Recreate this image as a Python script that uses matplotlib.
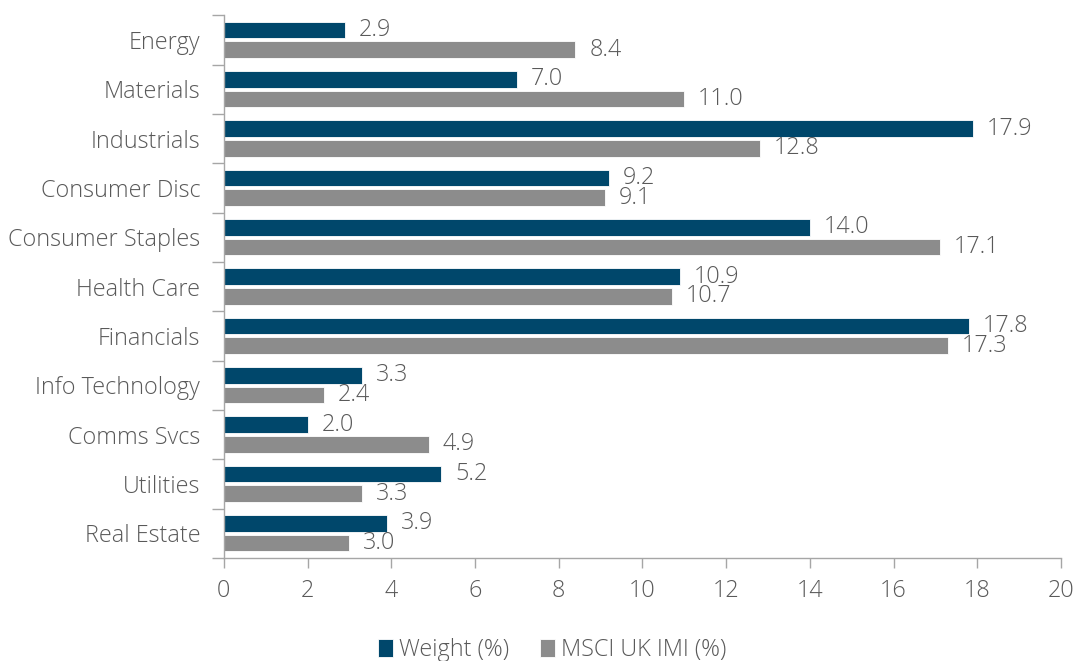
import matplotlib.pyplot as plt
import numpy as np

categories = ["Energy", "Materials", "Industrials", "Consumer Disc", "Consumer Staples",
              "Health Care", "Financials", "Info Technology", "Comms Svcs", "Utilities",
              "Real Estate"]
weight = [2.9, 7.0, 17.9, 9.2, 14.0, 10.9, 17.8, 3.3, 2.0, 5.2, 3.9]
msci = [8.4, 11.0, 12.8, 9.1, 17.1, 10.7, 17.3, 2.4, 4.9, 3.3, 3.0]
x_ticks = [0, 2, 4, 6, 8, 10, 12, 14, 16, 18, 20]

BLUE = "#00476b"
GREY = "#8c8c8c"
TEXT = "#595959"
AXIS = "#a6a6a6"

plt.rcParams['font.family'] = ['Open Sans', 'DejaVu Sans']
plt.rcParams['font.weight'] = 'light'

FS = 16.8


def main():
    fig = plt.figure(figsize=(10.76, 6.61), dpi=100)
    ax = fig.add_axes([0.208, 0.156, 0.778, 0.821])

    y = np.arange(len(categories))
    h = 0.34
    b1 = ax.barh(y - 0.2, weight, height=h, color=BLUE, edgecolor="white", linewidth=0.6,
                 label="Weight (%)")
    b2 = ax.barh(y + 0.2, msci, height=h, color=GREY, edgecolor="white", linewidth=0.6,
                 label="MSCI UK IMI (%)")

    for bars, vals in ((b1, weight), (b2, msci)):
        for bar, v in zip(bars, vals):
            ax.annotate(f"{v:.1f}", (v, bar.get_y() + bar.get_height() / 2),
                        xytext=(10, 0), textcoords="offset points",
                        va="center", ha="left", fontsize=FS, color=TEXT)

    ax.set_xlim(0, 20)
    ax.set_ylim(len(categories) - 0.5, -0.5)
    ax.set_xticks(x_ticks)
    ax.set_xticklabels([str(t) for t in x_ticks])

    ax.set_yticks(y)
    ax.set_yticklabels(categories)
    ax.set_yticks(np.arange(len(categories) + 1) - 0.5, minor=True)
    ax.tick_params(axis="y", which="major", length=0, pad=17, labelsize=FS, labelcolor=TEXT)
    ax.tick_params(axis="y", which="minor", length=9, color=AXIS, width=1)
    ax.tick_params(axis="x", length=7, color=AXIS, width=1, pad=8, labelsize=FS,
                   labelcolor=TEXT)

    for s in ("top", "right"):
        ax.spines[s].set_visible(False)
    for s in ("left", "bottom"):
        ax.spines[s].set_color(AXIS)
        ax.spines[s].set_linewidth(1)

    ax.legend(loc="upper center", bbox_to_anchor=(0.392, -0.122), ncol=2, frameon=False,
              fontsize=FS, handlelength=0.65, handleheight=0.85, handletextpad=0.25,
              columnspacing=1.3, labelcolor=TEXT, borderaxespad=0.2)

    fig.savefig("out.png", dpi=100)


if __name__ == "__main__":
    main()
